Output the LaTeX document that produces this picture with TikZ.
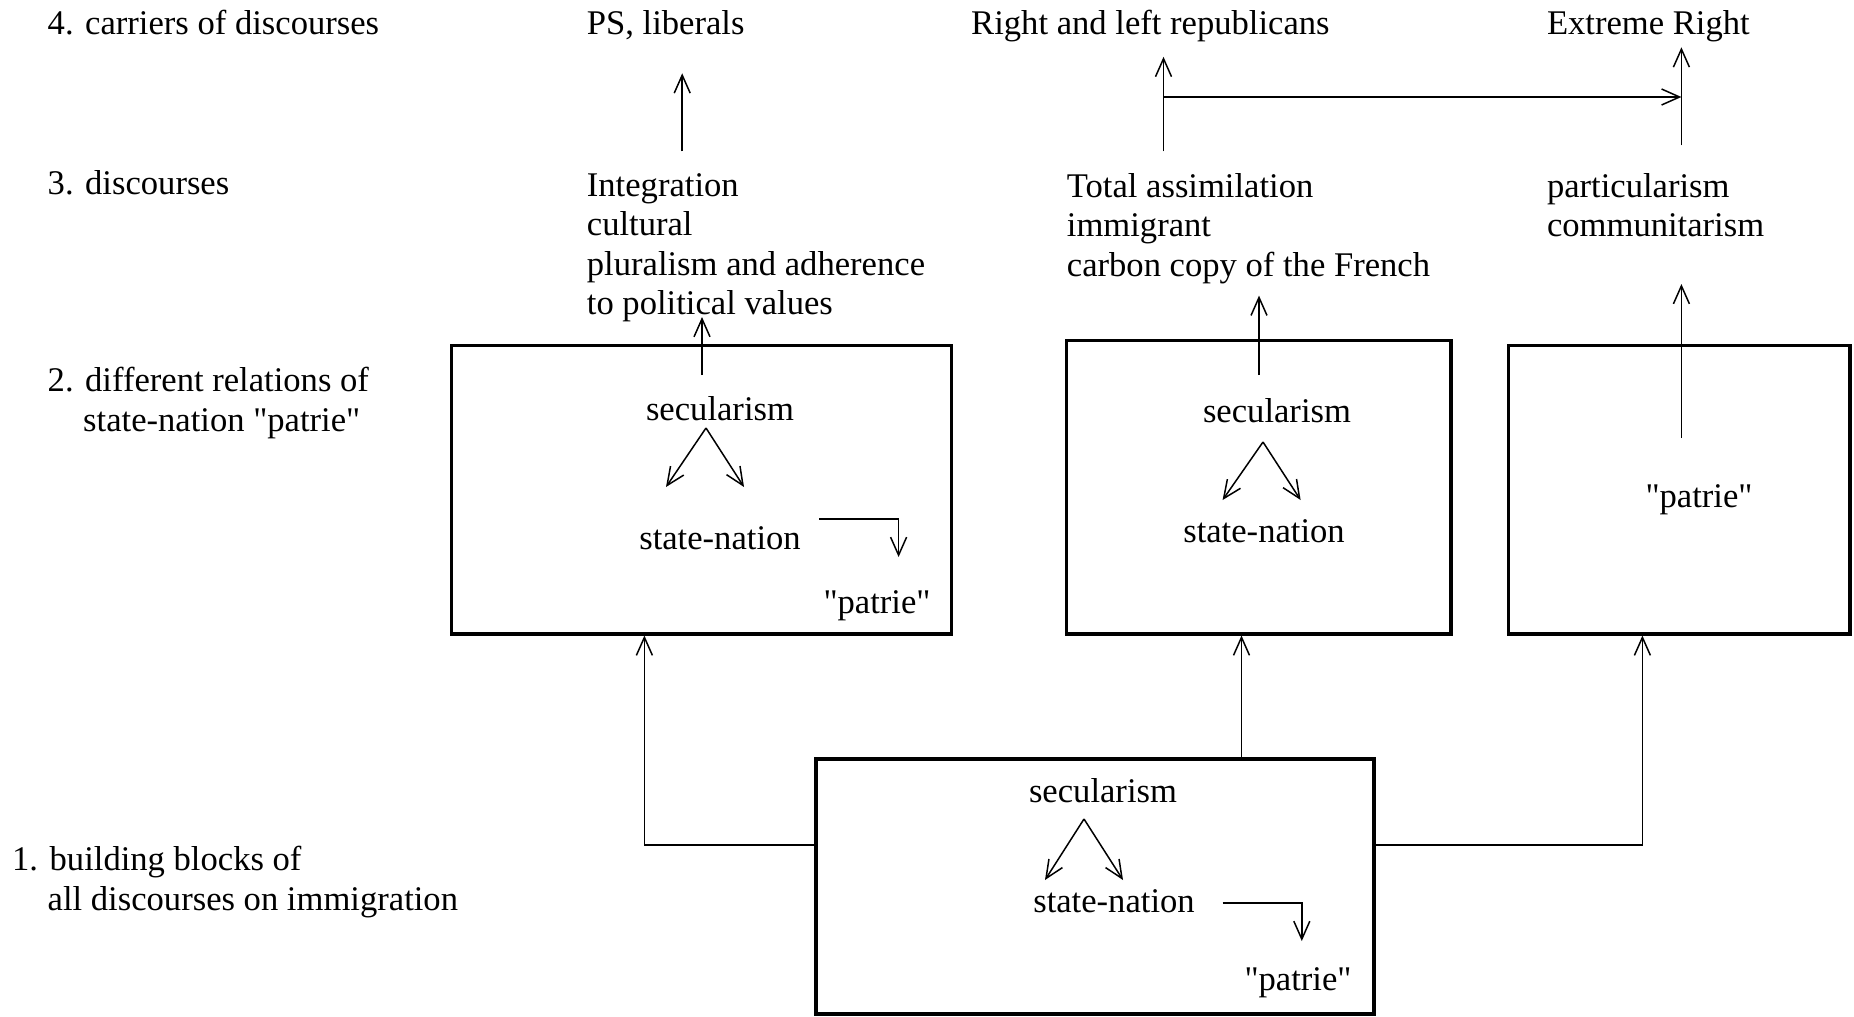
\documentclass[tikz,border=0pt]{standalone}
\usepackage{fontspec}
\setmainfont{Liberation Serif}[Ligatures=TeXOff]
\usetikzlibrary{arrows.meta}
\newcommand{\qq}{"}
\begin{document}
\begin{tikzpicture}[x=0.5pt,y=-0.5pt,
  txt/.style={font=\fontsize{17.3}{19.75}\selectfont, inner sep=0pt, anchor=base west},
  ctxt/.style={txt, anchor=base},
  mtxt/.style={font=\fontsize{17.3}{19.75}\selectfont, inner sep=0pt, anchor=north west, align=left},
  box/.style={draw, line width=1.7pt, minimum width=#1, inner sep=0pt},
  arr/.style={draw, line width=0.75pt, -{Straight Barb[length=9pt,width=8pt]}},
  ln/.style={draw, line width=0.75pt}]
\useasboundingbox (0,0) rectangle (1854,1017);

% level labels
\node[txt] (l4) at (47.3,34) {4. carriers of discourses};
\node[txt] (l3) at (47.3,194) {3. discourses};
\node[txt] (l2a) at (47.3,391) {2. different relations of};
\node[txt] (l2b) at (82.8,431) {state-nation \qq patrie\qq};
\node[txt] (l1a) at (11.8,870) {1. building blocks of};
\node[txt] (l1b) at (47.3,910) {all discourses on immigration};

% carriers
\node[txt] (ps) at (586.5,34) {PS, liberals};
\node[txt] (rep) at (970.8,34) {Right and left republicans};
\node[txt] (er) at (1546.6,34) {Extreme Right};

% discourses
\node[mtxt] (d1) at (586.5,173) {Integration\\cultural\\pluralism and adherence\\to political values};
\node[mtxt] (d2) at (1066.5,173) {Total assimilation\\immigrant\\carbon copy of the French};
\node[mtxt] (d3) at (1546.6,173) {particularism\\communitarism};

% boxes
\node[box=250pt, minimum height=144.25pt] (A) at (701.75,489.55) {};
\node[box=192.15pt, minimum height=146.65pt] (B) at (1258.65,487.15) {};
\node[box=170.65pt, minimum height=144.25pt] (C) at (1679.35,489.55) {};
\node[box=279.05pt, minimum height=127.45pt] (D) at (1094.95,886.55) {};

% box A content
\node[ctxt] (As) at (720,420) {secularism};
\node[ctxt] (An) at (720,549) {state-nation};
\node[ctxt] (Ap) at (877,613) {\qq patrie\qq};
\coordinate (Aap) at (706,428);
\coordinate (Al) at (666,487);
\coordinate (Ar) at (744,487);
\draw[arr] (Aap) -- (Al);
\draw[arr] (Aap) -- (Ar);
\coordinate (Ae) at (819,519);
\coordinate (At) at (898.6,557);
\draw[arr] (Ae) -| (At);

% box B content
\node[ctxt] (Bs) at (1277,422) {secularism};
\node[ctxt] (Bn) at (1264,542) {state-nation};
\coordinate (Bap) at (1263,442);
\coordinate (Bl) at (1222.6,500);
\coordinate (Br) at (1300.6,500);
\draw[arr] (Bap) -- (Bl);
\draw[arr] (Bap) -- (Br);

% box C content
\node[ctxt] (Cp) at (1699,507) {\qq patrie\qq};

% box D content
\node[ctxt] (Ds) at (1103,802) {secularism};
\node[ctxt] (Dn) at (1114,912) {state-nation};
\node[ctxt] (Dp) at (1298,990) {\qq patrie\qq};
\coordinate (Dap) at (1084,819);
\coordinate (Dl) at (1045,880);
\coordinate (Dr) at (1123,880);
\draw[arr] (Dap) -- (Dl);
\draw[arr] (Dap) -- (Dr);
\coordinate (De) at (1222.6,903);
\coordinate (Dt) at (1301.8,941);
\draw[arr] (De) -| (Dt);

% connectors from D to level-2 boxes
\coordinate (rowD) at (0,845);
\coordinate (colA) at (644.4,0);
\coordinate (colB) at (1241.5,0);
\coordinate (colC) at (1642.4,0);
\draw[arr] (D.west |- rowD) -| (A.south -| colA);
\draw[arr] (D.north -| colB) -- (B.south -| colB);
\draw[arr] (D.east |- rowD) -| (C.south -| colC);

% boxes to discourses
\coordinate (Au0) at (702,375);
\coordinate (Au1) at (702,317);
\draw[arr] (Au0) -- (Au1);
\coordinate (Bu0) at (1259,375);
\coordinate (Bu1) at (1259,295.6);
\draw[arr] (Bu0) -- (Bu1);
\coordinate (Cu0) at (1681.4,438);
\coordinate (Cu1) at (1681.4,284);
\draw[arr] (Cu0) -- (Cu1);

% discourses to carriers
\coordinate (p0) at (682.2,151.3);
\coordinate (p1) at (682.2,73.3);
\draw[arr] (p0) -- (p1);
\coordinate (r0) at (1163.5,151.3);
\coordinate (r1) at (1163.5,56.8);
\draw[arr] (r0) -- (r1);
\coordinate (e0) at (1681.4,145.4);
\coordinate (e1) at (1681.4,47.3);
\draw[arr] (e0) -- (e1);
\coordinate (h0) at (1163.5,97);
\coordinate (h1) at (1681.4,97);
\draw[arr] (h0) -- (h1);
\end{tikzpicture}
\end{document}
